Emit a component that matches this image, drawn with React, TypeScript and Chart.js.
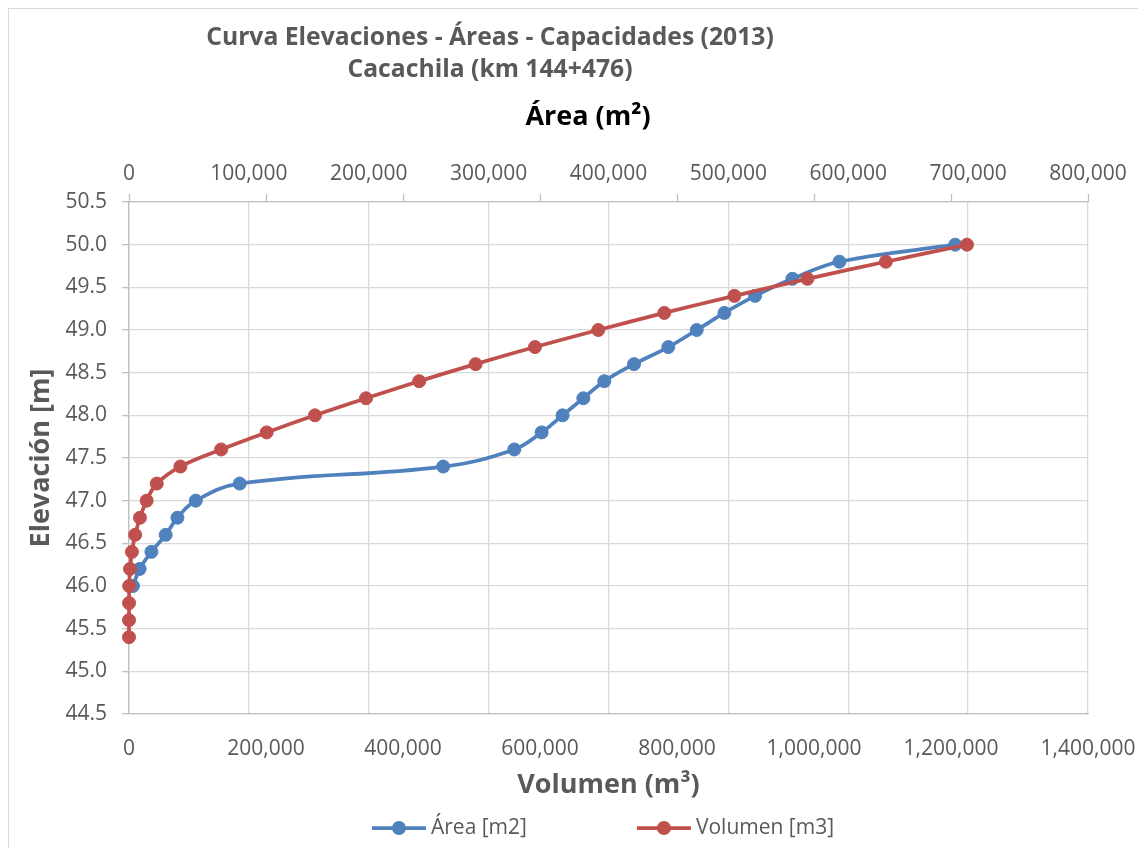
import { useEffect, useRef } from 'react';
import { Chart, registerables } from 'chart.js';

Chart.register(...registerables);

const FONT = "'Open Sans', sans-serif";

// Elevation levels [m]
const elevation = [45.4, 45.6, 45.8, 46.0, 46.2, 46.4, 46.6, 46.8, 47.0, 47.2, 47.4, 47.6, 47.8, 48.0, 48.2, 48.4, 48.6, 48.8, 49.0, 49.2, 49.4, 49.6, 49.8, 50.0];
// Área [m2] (null where no point is shown)
const areaM2 = [null, null, null, 3300, 8900, 18700, 30600, 40400, 55700, 92400, 262100, 321400, 344200, 361700, 379000, 396500, 421300, 449900, 473600, 496700, 522300, 553400, 592600, 689200];
// Volumen [m3]
const volumeM3 = [0, 0, 100, 300, 1500, 4300, 9000, 16000, 25800, 40500, 75000, 134500, 201000, 271500, 346000, 423600, 506000, 592700, 685100, 781500, 883800, 990400, 1104900, 1223300];

const titleLines = ['Curva Elevaciones - Áreas - Capacidades (2013)', 'Cacachila (km 144+476)'];
const seriesLabels = ['Área [m2]', 'Volumen [m3]'];
const seriesColors = ['#4F81BD', '#C0504D'];
const axisTitles = ['Área (m²)', 'Volumen (m³)', 'Elevación [m]'];
// [min, max, step]
const areaAxis = [0, 800000, 100000];
const volumeAxis = [0, 1400000, 200000];
const elevAxis = [44.5, 50.5, 0.5];

const headerPlugin = {
  id: 'header',
  afterDraw(chart: any) {
    const ctx = chart.ctx;
    ctx.save();
    ctx.fillStyle = '#595959';
    ctx.font = `bold 24.7px ${FONT}`;
    ctx.textAlign = 'center';
    ctx.textBaseline = 'middle';
    ctx.fillText(titleLines[0], 481, 29);
    ctx.fillText(titleLines[1], 481, 61);
    // secondary (top) axis title
    ctx.fillStyle = '#000000';
    ctx.font = `bold 27px ${FONT}`;
    ctx.fillText(axisTitles[0], 579, 108);
    ctx.restore();
  },
};

const topTicksPlugin = {
  id: 'topTicks',
  afterDraw(chart: any) {
    const ctx = chart.ctx;
    const s = chart.scales.x;
    const top = chart.chartArea.top;
    ctx.save();
    ctx.strokeStyle = '#bfbfbf';
    ctx.lineWidth = 1.3;
    s.ticks.forEach((t: any) => {
      const px = Math.round(s.getPixelForValue(t.value)) + 0.5;
      ctx.beginPath();
      ctx.moveTo(px, top);
      ctx.lineTo(px, top - 8);
      ctx.stroke();
    });
    ctx.restore();
  },
};

const legendPlugin = {
  id: 'customLegend',
  afterDraw(chart: any) {
    const ctx = chart.ctx;
    ctx.save();
    ctx.font = `21px ${FONT}`;
    const items = chart.data.datasets.map((ds: any) => ({
      label: ds.label,
      color: ds.borderColor,
      w: 54 + 5 + ctx.measureText(ds.label).width,
    }));
    const gap = 110;
    const total = items.reduce((s: number, i: any) => s + i.w, 0) + gap * (items.length - 1);
    let x = 594 - total / 2;
    const y = 819;
    for (const it of items) {
      ctx.strokeStyle = it.color;
      ctx.lineWidth = 3.75;
      ctx.beginPath();
      ctx.moveTo(x, y);
      ctx.lineTo(x + 54, y);
      ctx.stroke();
      ctx.fillStyle = it.color;
      ctx.beginPath();
      ctx.arc(x + 27, y, 7, 0, Math.PI * 2);
      ctx.fill();
      ctx.fillStyle = '#595959';
      ctx.textAlign = 'left';
      ctx.textBaseline = 'middle';
      ctx.fillText(it.label, x + 59, y);
      x += it.w + gap;
    }
    ctx.restore();
  },
};

export default function App() {
  const ref = useRef<HTMLCanvasElement>(null);

  useEffect(() => {
    Chart.defaults.font.family = FONT;
    Chart.defaults.color = '#595959';

    const areaData = elevation
      .map((e, i) => ({ x: areaM2[i], y: e }))
      .filter((p) => p.x !== null);
    const volData = elevation.map((e, i) => ({ x: volumeM3[i], y: e }));

    const chart = new Chart(ref.current as HTMLCanvasElement, {
      type: 'line',
      data: {
        datasets: [
          {
            label: seriesLabels[0],
            data: areaData as any,
            xAxisID: 'x2',
            yAxisID: 'y',
            borderColor: seriesColors[0],
            backgroundColor: seriesColors[0],
            pointBackgroundColor: seriesColors[0],
            pointBorderColor: seriesColors[0],
            borderWidth: 3.75,
            pointRadius: 6.5,
            pointBorderWidth: 1,
            tension: 0.4,
            clip: false as any,
            order: 1,
          },
          {
            label: seriesLabels[1],
            data: volData as any,
            xAxisID: 'x',
            yAxisID: 'y',
            borderColor: seriesColors[1],
            backgroundColor: seriesColors[1],
            pointBackgroundColor: seriesColors[1],
            pointBorderColor: seriesColors[1],
            borderWidth: 3.75,
            pointRadius: 6.5,
            pointBorderWidth: 1,
            tension: 0.4,
            clip: false as any,
            order: 0,
          },
        ],
      },
      options: {
        responsive: false,
        animation: false,
        layout: { padding: { left: 0, top: 0, right: 58, bottom: 44 } },
        plugins: {
          legend: { display: false },
          tooltip: { enabled: false },
          title: { display: false },
        },
        scales: {
          x: {
            type: 'linear',
            position: 'bottom',
            min: volumeAxis[0],
            max: volumeAxis[1],
            afterFit: (s: any) => { s.height = 90; s.paddingLeft = 0; s.paddingRight = 0; },
            ticks: {
              stepSize: volumeAxis[2],
              font: { size: 21 },
              color: '#595959',
              padding: 14,
              maxRotation: 0,
              callback: (v: any) => Number(v).toLocaleString('en-US'),
            },
            grid: { display: false },
            border: { display: true, color: '#bfbfbf', width: 1.3 },
            title: {
              display: true,
              text: axisTitles[1],
              color: '#595959',
              font: { size: 27, weight: 'bold' },
              padding: { top: 0, bottom: 2 },
            },
          },
          x2: {
            type: 'linear',
            position: 'top',
            min: areaAxis[0],
            max: areaAxis[1],
            afterFit: (s: any) => { s.height = 193; s.paddingLeft = 0; s.paddingRight = 0; },
            ticks: {
              stepSize: areaAxis[2],
              font: { size: 21 },
              color: '#595959',
              padding: 15,
              maxRotation: 0,
              callback: (v: any) => Number(v).toLocaleString('en-US'),
            },
            grid: { display: true, color: '#d9d9d9', lineWidth: 1.3, drawTicks: false },
            border: { display: true, color: '#bfbfbf', width: 1.3 },
            title: { display: false },
          },
          y: {
            type: 'linear',
            position: 'left',
            min: elevAxis[0],
            max: elevAxis[1],
            afterFit: (s: any) => { s.width = 120; },
            ticks: {
              stepSize: elevAxis[2],
              font: { size: 21 },
              color: '#595959',
              padding: 15,
              callback: (v: any) => Number(v).toFixed(1),
            },
            grid: { color: '#d9d9d9', lineWidth: 1.3, drawTicks: true, tickLength: 7, tickColor: '#bfbfbf' },
            border: { display: true, color: '#bfbfbf', width: 1.3 },
            title: {
              display: true,
              text: axisTitles[2],
              color: '#595959',
              font: { size: 27, weight: 'bold' },
              padding: { top: 16, bottom: 0 },
            },
          },
        },
      } as any,
      plugins: [headerPlugin, topTicksPlugin, legendPlugin],
    });
    return () => chart.destroy();
  }, []);

  return (
    <div
      style={{
        width: 1138,
        height: 840,
        borderTop: '1px solid #d9d9d9',
        borderLeft: '1px solid #d9d9d9',
        boxSizing: 'border-box',
        background: '#fff',
        overflow: 'hidden',
      }}
    >
      <canvas ref={ref} width={1137} height={839} style={{ display: 'block' }} />
    </div>
  );
}
